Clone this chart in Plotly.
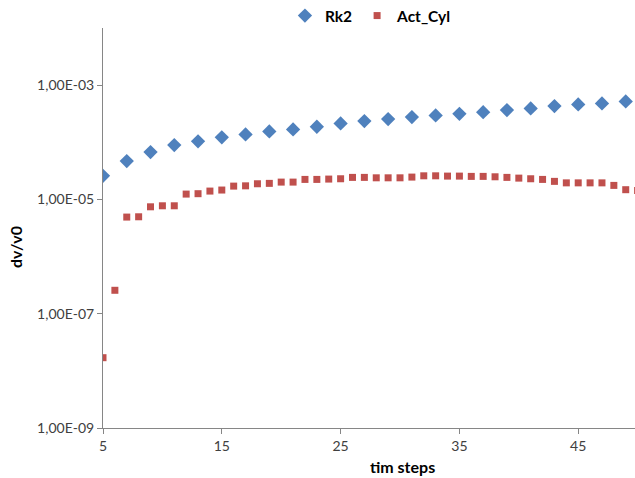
import plotly.graph_objects as go

rk2_steps = list(range(5, 50, 2))
rk2_values = [2.59e-5, 4.69e-5, 6.75e-5, 8.93e-5, 1.04e-4, 1.22e-4, 1.37e-4, 1.55e-4,
              1.68e-4, 1.87e-4, 2.14e-4, 2.35e-4, 2.55e-4, 2.76e-4, 2.95e-4, 3.15e-4,
              3.37e-4, 3.66e-4, 3.92e-4, 4.30e-4, 4.60e-4, 4.79e-4, 5.19e-4]

act_steps = list(range(5, 51))
act_values = [1.70e-8, 2.57e-7, 4.91e-6, 4.97e-6, 7.43e-6, 7.74e-6, 7.74e-6, 1.24e-5,
              1.26e-5, 1.40e-5, 1.46e-5, 1.71e-5, 1.73e-5, 1.88e-5, 1.91e-5, 2.01e-5,
              2.01e-5, 2.24e-5, 2.24e-5, 2.27e-5, 2.30e-5, 2.43e-5, 2.43e-5, 2.39e-5,
              2.39e-5, 2.39e-5, 2.46e-5, 2.59e-5, 2.59e-5, 2.56e-5, 2.56e-5, 2.53e-5,
              2.53e-5, 2.49e-5, 2.43e-5, 2.36e-5, 2.30e-5, 2.24e-5, 2.07e-5, 1.95e-5,
              1.95e-5, 1.95e-5, 1.95e-5, 1.76e-5, 1.48e-5, 1.44e-5]

x_ticks = [5, 15, 25, 35, 45]
y_tickvals = [1e-9, 1e-7, 1e-5, 1e-3]
y_ticktext = ["1,00E-09", "1,00E-07", "1,00E-05", "1,00E-03"]
x_title = "tim steps"
y_title = "dv/v0"

FONT = "Lato, Open Sans, sans-serif"
AXIS = "#868686"
TITLE_FONT = dict(family=FONT, size=16, color="#000000", weight="bold")

fig = go.Figure()
fig.add_trace(go.Scatter(x=rk2_steps, y=rk2_values, mode="markers", name="Rk2",
                         marker=dict(symbol="diamond", size=11, color="#4F81BD")))
fig.add_trace(go.Scatter(x=act_steps, y=act_values, mode="markers", name="Act_Cyl",
                         marker=dict(symbol="square", size=7, color="#C0504D")))

fig.update_layout(
    width=635, height=478,
    margin=dict(l=103, r=0, t=28, b=50, autoexpand=False),
    paper_bgcolor="white", plot_bgcolor="white",
    font=dict(family=FONT, size=14, color="#404040"),
    showlegend=True,
    legend=dict(orientation="h", x=0.342, xanchor="left", y=1.03, yanchor="middle",
                font=dict(family=FONT, size=15.5, color="#000000", weight="bold"),
                itemwidth=30, tracegroupgap=0, bgcolor="rgba(0,0,0,0)"),
    annotations=[
        dict(text=x_title, xref="paper", yref="paper", x=(402 - 103) / 532, y=-38 / 400,
             xanchor="center", yanchor="middle", showarrow=False, font=TITLE_FONT),
        dict(text=y_title, xref="paper", yref="paper", x=(15 - 103) / 532, y=(428 - 247) / 400,
             xanchor="center", yanchor="middle", textangle=-90, showarrow=False, font=TITLE_FONT),
    ],
)
fig.update_xaxes(range=[5, 49.78], tickvals=x_ticks, showgrid=False, zeroline=False,
                 showline=True, linecolor=AXIS, linewidth=1, ticks="outside",
                 tickcolor=AXIS, ticklen=5, automargin=False)
fig.update_yaxes(type="log", range=[-9, -2], tickvals=y_tickvals, ticktext=y_ticktext,
                 showgrid=False, zeroline=False, showline=True, linecolor=AXIS, linewidth=1,
                 ticks="outside", tickcolor=AXIS, ticklen=5, automargin=False)

fig.write_html("out.html", config={"displayModeBar": False},
               post_script="document.body.style.margin='0';")
